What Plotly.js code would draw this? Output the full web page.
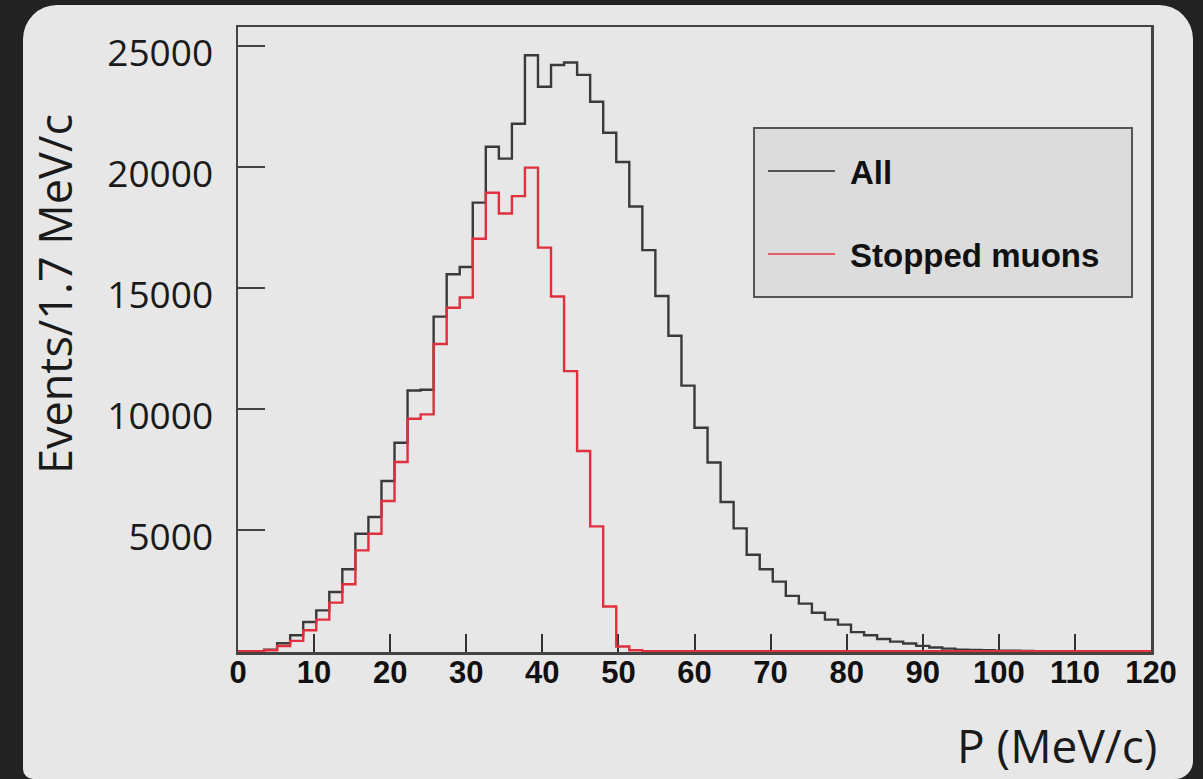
<!DOCTYPE html>
<html>
<head>
<meta charset="utf-8">
<script src="https://cdn.plot.ly/plotly-3.0.1.min.js"></script>
<style>
  html, body { margin:0; padding:0; width:1203px; height:779px; background:#222222; overflow:hidden; }
  #panel { position:absolute; left:23px; top:5px; width:1170px; height:774px; background:#e7e7e7;
           border-radius:34px 34px 18px 10px; }
  #chart { position:absolute; left:0; top:0; width:1203px; height:779px; }
</style>
</head>
<body>
<div id="panel"></div>
<div id="chart"></div>
<script>
// Histogram binning (70 bins over 0-120 MeV/c, ~1.7 MeV/c per bin)
const nBins = 70;
const xMin = 0;
const xMax = 120;

// Bin contents: all events
const allEvents = [
  0, 0, 60, 330, 660, 1210, 1690, 2450, 3390, 4860,
  5550, 7040, 8620, 10780, 10810, 13830, 15580, 15880, 18540, 20850,
  20360, 21800, 24630, 23330, 24230, 24330, 23820, 22710, 21430, 20220,
  18380, 16580, 14680, 13040, 10980, 9240, 7800, 6170, 5080, 3990,
  3390, 2880, 2290, 1970, 1590, 1310, 1100, 790, 660, 505,
  400, 320, 225, 155, 110, 70, 55, 40, 25, 25,
  12, 8, 5, 0, 0, 0, 0, 0, 0, 0
];

// Bin contents: stopped muons
const stoppedMuons = [
  0, 0, 40, 220, 430, 870, 1310, 2010, 2770, 4170,
  4860, 6210, 7820, 9610, 9790, 12700, 14200, 14620, 17050, 18950,
  18090, 18810, 19990, 16680, 14660, 11580, 8280, 5160, 1850, 200,
  40, 0, 0, 0, 0, 0, 0, 0, 0, 0,
  0, 0, 0, 0, 0, 0, 0, 0, 0, 0,
  0, 0, 0, 0, 0, 0, 0, 0, 0, 0,
  0, 0, 0, 0, 0, 0, 0, 0, 0, 0
];

const seriesNames = ["All", "Stopped muons"];
const xTickVals = [0, 10, 20, 30, 40, 50, 60, 70, 80, 90, 100, 110, 120];
const yTickVals = [5000, 10000, 15000, 20000, 25000];

const binWidth = (xMax - xMin) / nBins;
const edges = [];
for (let i = 0; i <= nBins; i++) edges.push(xMin + i * binWidth);
function stepY(vals) { return vals.concat([vals[vals.length - 1]]); }

const traces = [
  { x: edges, y: stepY(allEvents), type: 'scatter', mode: 'lines', name: seriesNames[0],
    line: { shape: 'hv', color: '#3a3a3a', width: 2.4 }, hoverinfo: 'skip' },
  { x: edges, y: stepY(stoppedMuons), type: 'scatter', mode: 'lines', name: seriesNames[1],
    line: { shape: 'hv', color: '#e0303e', width: 2.4 }, hoverinfo: 'skip' }
];

// plot-area pixel frame -> paper coords helpers (for legend box / titles)
const L = 238, R = 1151, T = 27, B = 652;
function px(x) { return (x - L) / (R - L); }
function py(y) { return (B - y) / (B - T); }

const layout = {
  width: 1203, height: 779,
  margin: { l: L, r: 1203 - R, t: T, b: 779 - B, pad: 0 },
  paper_bgcolor: 'rgba(0,0,0,0)',
  plot_bgcolor: 'rgba(0,0,0,0)',
  showlegend: false,
  xaxis: {
    range: [xMin, xMax], tickvals: xTickVals, ticktext: xTickVals.map(String),
    ticks: 'inside', ticklen: 18, tickwidth: 2, tickcolor: '#333',
    showline: true, linecolor: '#444', linewidth: 2.5, mirror: true,
    showgrid: false, zeroline: false, layer: 'below traces',
    tickfont: { family: 'Liberation Sans, Arial, sans-serif', size: 31, color: '#111', weight: 700 },
    ticklabelstandoff: -9
  },
  yaxis: {
    range: [-30, 25800], tickvals: yTickVals, ticktext: yTickVals.map(String),
    ticks: 'inside', ticklen: 27, tickwidth: 2, tickcolor: '#444',
    showline: true, linecolor: '#444', linewidth: 2.5, mirror: true,
    showgrid: false, zeroline: false, layer: 'below traces',
    tickfont: { family: 'Open Sans, Noto Sans, sans-serif', size: 37, color: '#1a1a1a' },
    ticklabelstandoff: 15, ticklabelshift: 7
  },
  shapes: [
    { type: 'rect', xref: 'paper', yref: 'paper', x0: px(754), x1: px(1132), y0: py(297), y1: py(128),
      fillcolor: '#dcdcdc', line: { color: '#555', width: 2 }, layer: 'above' },
    { type: 'line', xref: 'paper', yref: 'paper', x0: px(768), x1: px(835), y0: py(171), y1: py(171),
      line: { color: '#555', width: 2 } },
    { type: 'line', xref: 'paper', yref: 'paper', x0: px(768), x1: px(835), y0: py(254), y1: py(254),
      line: { color: '#e4606e', width: 2 } }
  ],
  annotations: [
    { xref: 'paper', yref: 'paper', x: px(848), y: py(172), xanchor: 'left', yanchor: 'middle',
      text: seriesNames[0], showarrow: false,
      font: { family: 'Liberation Sans, Arial, sans-serif', size: 33, color: '#111', weight: 700 } },
    { xref: 'paper', yref: 'paper', x: px(848), y: py(255), xanchor: 'left', yanchor: 'middle',
      text: seriesNames[1], showarrow: false,
      font: { family: 'Liberation Sans, Arial, sans-serif', size: 33, color: '#111', weight: 700 } },
    { xref: 'paper', yref: 'paper', x: px(54), y: py(294), xanchor: 'center', yanchor: 'middle',
      text: 'Events/1.7 MeV/c', textangle: -90, showarrow: false,
      font: { family: 'Open Sans, Noto Sans, sans-serif', size: 45, color: '#1a1a1a' } },
    { xref: 'paper', yref: 'paper', x: px(1057), y: py(745), xanchor: 'center', yanchor: 'middle',
      text: 'P (MeV/c)', showarrow: false,
      font: { family: 'Open Sans, Noto Sans, sans-serif', size: 46, color: '#1a1a1a' } }
  ]
};

Plotly.newPlot('chart', traces, layout, { staticPlot: true, displayModeBar: false });
</script>
</body>
</html>
